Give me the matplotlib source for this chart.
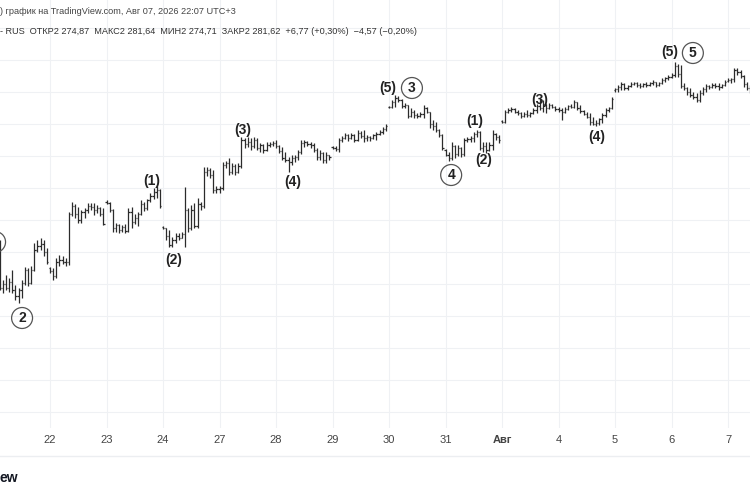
import numpy as np
import matplotlib
matplotlib.use("Agg")
import matplotlib.pyplot as plt
from matplotlib.lines import Line2D

# часовые бары, по 18 на торговый день
day_labels = ["21", "22", "23", "24", "27", "28", "29", "30", "31", "Авг", "4", "5", "6", "7"]
bars_per_day = 18

opens = [
    2192, 2194, 2195, 2176, 2178, 2176, 2179, 2175, 2172, 2175, 2178.5, 2185, 2178.5, 2185, 2195, 2197, 2198, 2194,
    2186, 2184.5, 2182, 2189, 2190, 2189, 2189, 2213, 2217, 2213, 2210, 2214, 2215, 2217, 2216.5, 2215, 2216, 2213,
    2219, 2218.5, 2215, 2206, 2207.5, 2205, 2206.5, 2204.5, 2214, 2209, 2211, 2213, 2218, 2216, 2220, 2222, 2224, 2225,
    2206.5, 2206, 2202, 2197.5, 2200, 2202, 2201, 2203, 2215, 2206, 2215, 2207, 2218, 2217, 2234, 2235, 2232.5, 2225,
    2225.5, 2226, 2237.5, 2238.5, 2234, 2237, 2234, 2237, 2250, 2248, 2249, 2247, 2250, 2246, 2247.5, 2245, 2247.5, 2248,
    2248.5, 2247, 2244.5, 2241, 2240, 2239, 2241, 2241.5, 2244, 2248.5, 2249, 2248, 2247.5, 2245, 2241.5, 2243.5, 2240, 2242.5,
    2246.5, 2246, 2245.5, 2250, 2251, 2252.5, 2251, 2252.5, 2250, 2253.5, 2252, 2251, 2251.5, 2251, 2252.5, 2253, 2254, 2255.5,
    2266.5, 2266.5, 2269, 2271, 2270, 2267, 2267.5, 2262, 2264, 2262.5, 2262, 2263, 2266, 2264, 2258, 2257, 2255, 2252.5,
    2245, 2242.5, 2241, 2247, 2243, 2246, 2243, 2250, 2250.5, 2251, 2253, 2254, 2246, 2247, 2245, 2247.5, 2253, 2251.5,
    2259.5, 2259, 2264, 2265, 2265.5, 2264, 2263.5, 2262, 2263, 2262.5, 2263.5, 2265, 2267, 2266, 2268, 2266, 2267.5, 2266.5,
    2265.5, 2265, 2264, 2265.5, 2267, 2266.5, 2269, 2266, 2264.5, 2263, 2261.5, 2259, 2258, 2258.5, 2260.5, 2262.5, 2265, 2266,
    2275, 2275.5, 2276.5, 2278, 2276, 2277, 2278, 2278.5, 2277.5, 2277, 2278, 2277.5, 2278.5, 2279, 2277.5, 2278.5, 2280, 2281,
    2281.5, 2282.5, 2287, 2283, 2277, 2276, 2274, 2272.5, 2271.5, 2270, 2273.5, 2275.5, 2277, 2276.5, 2277.5, 2277, 2276.5, 2277.5,
    2279.5, 2280, 2280.5, 2285, 2284, 2282, 2278, 2276, 2274.5,
]
highs = [
    2195, 2196, 2200, 2180, 2182.5, 2181, 2185, 2177.5, 2176, 2180, 2186.5, 2186, 2187, 2198.5, 2200, 2201, 2200, 2196,
    2186.5, 2186, 2191, 2192.5, 2192, 2191, 2214, 2219, 2218, 2216.5, 2215, 2216, 2218.5, 2218.5, 2218.5, 2217.5, 2216.5, 2216,
    2220, 2219, 2215.5, 2208.5, 2208, 2207.5, 2208, 2216, 2216.5, 2213, 2214, 2220, 2219, 2220.5, 2223.5, 2226, 2227, 2225.5,
    2207, 2206, 2205, 2201.5, 2203.5, 2203.5, 2204, 2226.5, 2216, 2217.5, 2218.5, 2221, 2219, 2236.5, 2236.5, 2236, 2235, 2227,
    2227, 2239, 2239.5, 2241, 2238.5, 2238, 2238.5, 2251.5, 2251, 2251.5, 2251, 2251.5, 2251, 2248.5, 2248, 2249, 2249, 2249.5,
    2250, 2247.5, 2246.5, 2244, 2241.5, 2242.5, 2242.5, 2245, 2250, 2250, 2249.5, 2249, 2248.5, 2246, 2245, 2244, 2244, 2242.5,
    2247, 2247, 2251, 2252, 2253.5, 2253, 2253.5, 2253, 2255, 2254.5, 2255, 2252.5, 2252, 2253, 2254, 2255, 2256.5, 2258,
    2267, 2270, 2272.5, 2272, 2270.5, 2268.5, 2267.5, 2266, 2265, 2263.5, 2264, 2267.5, 2266.5, 2264, 2260, 2259, 2255.5, 2253,
    2245.5, 2244, 2249, 2247.5, 2247.5, 2246.5, 2251, 2251.5, 2252, 2254, 2255, 2254.5, 2249, 2249, 2249, 2255, 2253.5, 2252.5,
    2260, 2265, 2266, 2266.5, 2266, 2265, 2264, 2264, 2265, 2264, 2266, 2268, 2271, 2270, 2268, 2268.5, 2268, 2267,
    2266.5, 2266, 2266.5, 2267.5, 2268, 2270, 2269, 2267.5, 2265, 2264, 2263.5, 2261.5, 2260, 2261, 2263.5, 2266, 2266.5, 2271.5,
    2276, 2277.5, 2279, 2278.5, 2277.5, 2279, 2279, 2279, 2278.5, 2278.5, 2279, 2279, 2280, 2279, 2279, 2281, 2281.5, 2282.5,
    2283.5, 2289, 2288, 2287.5, 2278.5, 2276.5, 2276, 2274, 2273.5, 2275, 2276.5, 2278, 2277.5, 2278.5, 2278.5, 2278.5, 2278, 2280,
    2281, 2281, 2286, 2286, 2285, 2282.5, 2279, 2277.5, 2277,
]
lows = [
    2189, 2192, 2175, 2173.5, 2175, 2174, 2173.5, 2170, 2168.5, 2171, 2177.5, 2177, 2178, 2184.5, 2194, 2195, 2192, 2188,
    2183.5, 2180, 2181, 2187, 2188, 2187, 2187.5, 2212, 2211, 2208.5, 2208.5, 2211, 2213.5, 2215, 2212.5, 2213.5, 2212, 2207.5,
    2218, 2214, 2204, 2204, 2203.5, 2204, 2203.5, 2204, 2206, 2208, 2207, 2212.5, 2214.5, 2215, 2219, 2220.5, 2221, 2216,
    2205.5, 2200, 2196.5, 2196.5, 2198.5, 2200, 2201, 2196.5, 2204, 2205, 2206, 2206, 2215, 2216, 2232, 2231, 2223.5, 2223.5,
    2223.5, 2225, 2236, 2232.5, 2233, 2232.5, 2233.5, 2236, 2246, 2246.5, 2245, 2246, 2245, 2244, 2243.5, 2244.5, 2246.5, 2247,
    2246, 2243.5, 2240, 2239, 2234, 2237.5, 2239, 2240, 2243, 2246.5, 2247, 2246, 2244, 2240, 2240, 2238.5, 2238.5, 2240,
    2245.5, 2244.5, 2244, 2249, 2250.5, 2249.5, 2250.5, 2249, 2249.5, 2251, 2249, 2249.5, 2249.5, 2250.5, 2250, 2252.5, 2253, 2254.5,
    2266, 2266, 2266.5, 2269, 2266, 2266, 2261, 2261.5, 2261, 2261, 2261.5, 2261, 2263.5, 2256, 2255, 2254, 2251.5, 2245,
    2242, 2239.5, 2240, 2241, 2242, 2241.5, 2242, 2249, 2249, 2249, 2251.5, 2245, 2244, 2243.5, 2244.5, 2245, 2250, 2248.5,
    2258.5, 2258.5, 2263.5, 2264, 2263.5, 2262.5, 2261, 2261.5, 2261.5, 2261.5, 2263, 2263.5, 2265, 2264, 2263.5, 2265.5, 2266, 2264.5,
    2264, 2260, 2263.5, 2265, 2266, 2266, 2265, 2263.5, 2262.5, 2261, 2257.5, 2257.5, 2257, 2257.5, 2258.5, 2261.5, 2264, 2265.5,
    2274, 2274, 2275, 2275, 2275, 2276.5, 2277.5, 2276.5, 2276, 2276.5, 2276.5, 2277, 2277.5, 2276.5, 2277, 2278, 2279, 2280,
    2281, 2281.5, 2281.5, 2276, 2275, 2272.5, 2271.5, 2270.5, 2269, 2269, 2272.5, 2274, 2275.5, 2276, 2276, 2275, 2276, 2277,
    2279, 2278.5, 2279, 2282.5, 2281, 2276.5, 2275, 2273.5, 2272.5,
]
closes = [
    2194, 2195, 2176, 2178, 2176, 2179, 2175, 2172, 2175, 2178.5, 2185, 2178.5, 2185, 2195, 2197, 2198, 2194, 2189,
    2184.5, 2182, 2189, 2190, 2189, 2189, 2213, 2217, 2213, 2210, 2214, 2215, 2217, 2216.5, 2215, 2216, 2213, 2208,
    2218.5, 2215, 2206, 2207.5, 2205, 2206.5, 2204.5, 2214, 2209, 2211, 2213, 2218, 2216, 2220, 2222, 2224, 2225, 2217,
    2206, 2202, 2197.5, 2200, 2202, 2201, 2203, 2215, 2206, 2215, 2207, 2218, 2217, 2234, 2235, 2232.5, 2225, 2225.5,
    2226, 2237.5, 2238.5, 2234, 2237, 2234, 2237, 2250, 2248, 2249, 2247, 2250, 2246, 2247.5, 2245, 2247.5, 2248, 2248.5,
    2247, 2244.5, 2241, 2240, 2239, 2241, 2241.5, 2244, 2248.5, 2249, 2248, 2247.5, 2245, 2241.5, 2243.5, 2240, 2242.5, 2241.5,
    2246, 2245.5, 2250, 2251, 2252.5, 2251, 2252.5, 2250, 2253.5, 2252, 2251, 2251.5, 2251, 2252.5, 2253, 2254, 2255.5, 2257,
    2266.5, 2269, 2271, 2270, 2267, 2267.5, 2262, 2264, 2262.5, 2262, 2263, 2266, 2264, 2258, 2257, 2255, 2252.5, 2246,
    2242.5, 2241, 2247, 2243, 2246, 2243, 2250, 2250.5, 2251, 2253, 2254, 2246, 2247, 2245, 2247.5, 2253, 2251.5, 2250,
    2259, 2264, 2265, 2265.5, 2264, 2263.5, 2262, 2263, 2262.5, 2263.5, 2265, 2267, 2266, 2268, 2266, 2267.5, 2266.5, 2265.5,
    2265, 2264, 2265.5, 2267, 2266.5, 2269, 2266, 2264.5, 2263, 2261.5, 2259, 2258, 2258.5, 2260.5, 2262.5, 2265, 2266, 2270.5,
    2275.5, 2276.5, 2278, 2276, 2277, 2278, 2278.5, 2277.5, 2277, 2278, 2277.5, 2278.5, 2279, 2277.5, 2278.5, 2280, 2281, 2281.5,
    2282.5, 2287, 2283, 2277, 2276, 2274, 2272.5, 2271.5, 2270, 2273.5, 2275.5, 2277, 2276.5, 2277.5, 2277, 2276.5, 2277.5, 2279,
    2280, 2280.5, 2285, 2284, 2282, 2278, 2276, 2274.5, 2275.5,
]

# разметка волн Эллиотта: текст, индекс бара, цена, в кружке или нет
wave_text = ["1", "2", "(1)", "(2)", "(3)", "(4)", "(5)", "3", "4", "(1)", "(2)", "(3)", "(4)", "(5)", "5"]
wave_x = [0.5, 9.1, 50.5, 57.5, 79.5, 95.4, 125.7, 133.3, 145.8, 153.4, 156.3, 174.1, 192.3, 215.5, 222.8]
wave_y = [2199, 2161, 2229.5, 2190, 2255, 2229, 2276, 2276, 2232.5, 2259.5, 2240, 2270, 2251.5, 2294, 2293.5]
wave_circle = [True, True, False, False, False, False, False, True, True, False, False, False, False, False, True]

header1 = ") график на TradingView.com, Авг 07, 2026 22:07 UTC+3"
header2 = "- RUS  ОТКР2 274,87  МАКС2 281,64  МИН2 274,71  ЗАКР2 281,62  +6,77 (+0,30%)  −4,57 (−0,20%)"

narrow = ["Liberation Sans Narrow", "Liberation Sans", "DejaVu Sans"]
bar_color = "#2b2b2b"
grid_color = "#eff1f4"

fig = plt.figure(figsize=(7.5, 5), dpi=100)
ax = fig.add_axes([0, 1 - 428 / 500, 1, 428 / 500])

x = np.arange(len(opens))
ax.vlines(x, lows, highs, color=bar_color, lw=0.9)
ax.hlines(opens, x - 0.4, x, color=bar_color, lw=0.9)
ax.hlines(closes, x, x + 0.4, color=bar_color, lw=0.9)

for t, wx, wy, circ in zip(wave_text, wave_x, wave_y, wave_circle):
    if circ:
        ax.text(wx, wy, t, ha="center", va="center", fontsize=10, color="#222222", family=narrow,
                fontweight="bold",
                bbox=dict(boxstyle="circle,pad=0.25", fc="none", ec="#555555", lw=0.9))
    else:
        ax.text(wx, wy, t, ha="center", va="center", fontsize=10, color="#222222", family=narrow,
                fontweight="bold")

# границы осей подогнаны под обрезанный скриншот
ax.set_xlim(2.07, 241.0)
ax.set_ylim(2106, 2320)

day_starts = np.arange(1, len(day_labels)) * bars_per_day
ax.set_xticks(day_starts)
ax.set_xticklabels(day_labels[1:], fontsize=8, color="#444444", family=narrow)
for lab in ax.get_xticklabels():
    if lab.get_text() == "Авг":
        lab.set_fontweight("bold")
ax.set_yticks(np.arange(2114, 2307, 16))
ax.set_yticklabels([])
ax.tick_params(axis="both", length=0)
ax.tick_params(axis="x", pad=5)
ax.grid(True, color=grid_color, lw=0.8)
ax.set_axisbelow(True)
for s in ax.spines.values():
    s.set_visible(False)

fig.text(0.0, 1 - 11 / 500, header1, fontsize=6.6, color="#444444", va="center", ha="left", family=narrow)
fig.text(0.0, 1 - 32 / 500, header2, fontsize=6.6, color="#333333", va="center", ha="left", family=narrow)
fig.text(0.0, 1 - 478 / 500, "ew", fontsize=10, fontweight="bold", color="#131722", va="center", ha="left",
         family=narrow)
fig.add_artist(Line2D([0, 1], [1 - 456 / 500] * 2, color="#eceef1", lw=1))

fig.savefig("out.png", dpi=100)
